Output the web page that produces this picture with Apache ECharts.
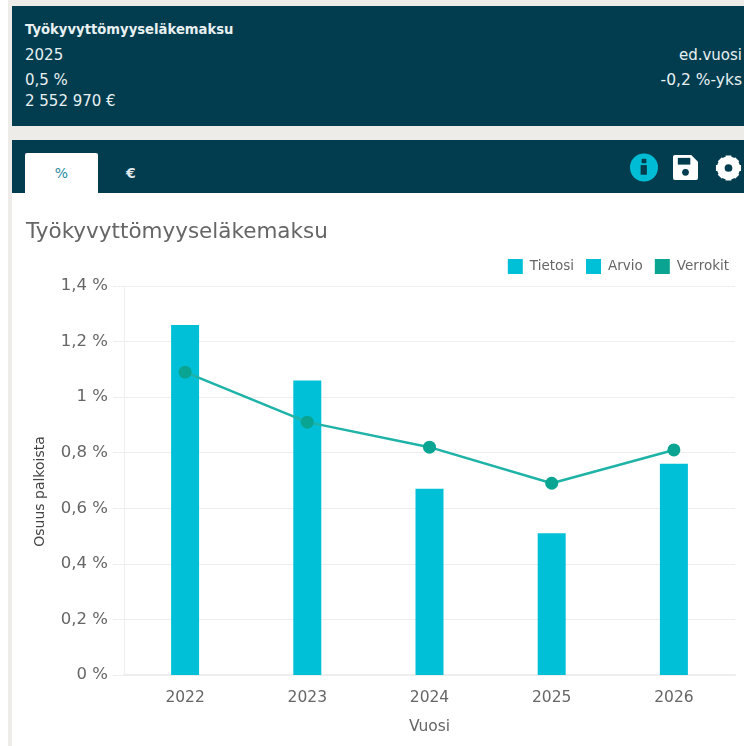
<!DOCTYPE html>
<html><head><meta charset="utf-8">
<style>
html,body{margin:0;padding:0;width:744px;height:746px;overflow:hidden;background:#fff;font-family:"DejaVu Sans",sans-serif}
#wrap{position:absolute;left:0;top:0;width:744px;height:746px;filter:blur(0.5px)}
#bg{position:absolute;left:8px;top:0;width:736px;height:746px;background:#eeece8}
.dark{position:absolute;left:12px;width:732px;background:#023d4f;color:#e8f0f2;font-size:15px}
#p1{top:6px;height:120px}
#p2{top:140px;height:53px}
.t{position:absolute;white-space:nowrap;line-height:16px}
#tab{position:absolute;left:13px;top:13px;width:73px;height:40px;background:#fff;border-radius:2px 2px 0 0;color:#2a8aa5;text-align:center;line-height:41px;font-size:14px}
#tab2{position:absolute;left:114px;top:13px;line-height:41px;font-size:14px;font-weight:bold;color:#dfe9ec}
#main{position:absolute;left:12px;top:193px;width:732px;height:553px;background:#fff}
svg{position:absolute}
</style></head><body>
<div id="wrap">
<div id="bg"></div>
<div class="dark" id="p1">
<div class="t" style="left:13px;top:16px;font-size:13.2px;font-weight:bold;">Työkyvyttömyyseläkemaksu</div>
<div class="t" style="left:13px;top:41px">2025</div>
<div class="t" style="left:13px;top:66px">0,5 %</div>
<div class="t" style="left:13px;top:87px">2 552 970 €</div>
<div class="t" style="right:2px;top:41px">ed.vuosi</div>
<div class="t" style="right:2px;top:66px;font-size:15.5px">-0,2 %-yks</div>
</div>
<div class="dark" id="p2">
<div id="tab">%</div><div id="tab2">€</div>
<svg style="left:618px;top:13px" width="28" height="29" viewBox="0 0 29 29"><circle cx="14.500" cy="14.500" r="14.500" fill="#00bcd4"/><rect x="11" y="12" width="6.500" height="10" fill="#023d4f"/><rect x="12" y="5.500" width="5" height="4.500" rx="1" fill="#023d4f"/></svg>
<svg style="left:661px;top:15px" width="25" height="25" viewBox="0 0 26 26"><path d="M2 0H19L26 7V24a2 2 0 0 1-2 2H2a2 2 0 0 1-2-2V2a2 2 0 0 1 2-2Z" fill="#fff"/><rect x="5" y="3" width="13" height="7" fill="#023d4f"/><circle cx="13" cy="18" r="3.500" fill="#023d4f"/></svg>
<svg style="left:703px;top:14px" width="27" height="28" viewBox="0 0 28 28"><circle cx="14" cy="14" r="8" fill="none" stroke="#fff" stroke-width="8"/><g stroke="#fff" stroke-width="6"><path d="M14 1V6M14 22V27M1 14H6M22 14H27M5 5L8 8M20 20L23 23M23 5L20 8M8 20L5 23"/></g></svg>
</div>
<div id="main"></div>
</div>
<script src="https://cdn.jsdelivr.net/npm/echarts@6/dist/echarts.min.js"></script>
<script>
const years=['2022','2023','2024','2025','2026'];
const tietosi=[1.26,1.06,0.67,0.51,null];
const arvio=[null,null,null,null,0.76];
const verrokit=[1.09,0.91,0.82,0.69,0.81];
const chartTitle='Työkyvyttömyyseläkemaksu';
const yName='Osuus palkoista';
const xName='Vuosi';
const chart=echarts.init(document.getElementById('main'),null,{renderer:'canvas'});
const font='"DejaVu Sans",sans-serif';
chart.setOption({
 animation:false,
 textStyle:{fontFamily:font},
 title:{text:chartTitle,left:14,top:28,padding:0,textStyle:{color:'#666',fontSize:21.5,fontWeight:'normal',fontFamily:font}},
 legend:{top:66,right:15,padding:0,itemWidth:15,itemHeight:15,itemGap:12,
  data:[{name:'Tietosi',icon:'rect'},{name:'Arvio',icon:'rect'},{name:'Verrokit',icon:'rect'}],
  textStyle:{color:'#666',fontSize:13.5,fontFamily:font,padding:[0,0,0,2]}},
 grid:{left:112,right:9,top:93,bottom:71,containLabel:false},
 xAxis:{type:'category',data:years,name:xName,nameLocation:'middle',nameGap:44,
  nameTextStyle:{color:'#666',fontSize:15.5},
  axisLine:{lineStyle:{color:'#eee',width:2}},axisTick:{show:false},
  axisLabel:{color:'#666',fontSize:15.500,margin:15},
  splitLine:{show:false}},
 yAxis:{type:'value',min:0,max:1.4,interval:0.2,name:yName,nameLocation:'middle',nameGap:77,
  nameTextStyle:{color:'#444',fontSize:14,padding:[0,22,0,0]},
  axisLine:{show:true,lineStyle:{color:'#eee'}},
  axisTick:{show:true,length:11,lineStyle:{color:'#eee'}},
  axisLabel:{color:'#666',fontSize:16.5,margin:16,formatter:v=>String(+v.toFixed(1)).replace('.',',')+' %'},
  splitLine:{lineStyle:{color:'#eee'}}},
 series:[
  {name:'Tietosi',type:'bar',stack:'a',data:tietosi,barWidth:28,itemStyle:{color:'#00c0d8'}},
  {name:'Arvio',type:'bar',stack:'a',data:arvio,barWidth:28,itemStyle:{color:'#00c0d8'}},
  {name:'Verrokit',type:'line',data:verrokit,symbol:'circle',symbolSize:13,
   lineStyle:{color:'#1fb3a8',width:2.500},itemStyle:{color:'#0aa592'}}
 ]
});
</script>
</body></html>
